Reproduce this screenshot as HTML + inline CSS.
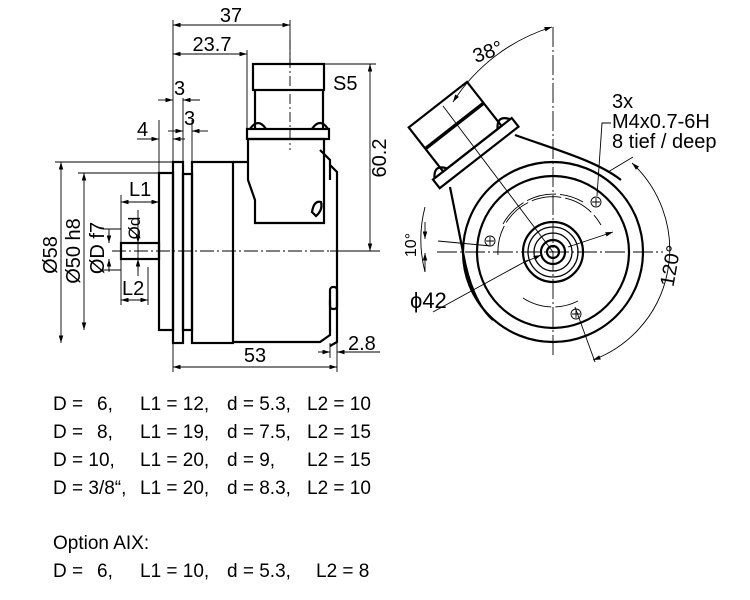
<!DOCTYPE html>
<html><head><meta charset="utf-8"><style>
html,body{margin:0;padding:0;background:#fff;}
svg{display:block;font-family:"Liberation Sans",sans-serif;}
</style></head><body>
<svg width="750" height="600" viewBox="0 0 750 600" xmlns="http://www.w3.org/2000/svg">
<defs>
<marker id="a" viewBox="0 0 10 6" refX="10" refY="3" markerWidth="9" markerHeight="5" orient="auto-start-reverse"><path d="M0,0 L10,3 L0,6z" fill="#000"/></marker>
</defs>
<g fill="none" stroke="#000" stroke-width="2.2">
 <rect x="159" y="173" width="14" height="157"/>
 <rect x="173" y="162" width="10" height="181"/>
 <rect x="183" y="174" width="9" height="156"/>
 <rect x="192" y="162" width="41" height="181"/>
 <path d="M233,162 H248 M233,342 H320 L330,335 V300 M330,180 V160 L320,150"/>
 <path d="M330,165 L337,172 V342 L330,346"/>
 <rect x="330" y="287" width="7" height="22" rx="3"/>
 <path d="M248,139 V180 L255,200 V223 H324 V139 Z"/>
 <rect x="247" y="129" width="82" height="10"/>
 <path d="M255,128 V90 M323,128 V90"/>
 <rect x="253" y="64" width="71" height="26"/>
 <path d="M250,129 q8,-12 16,0 M312,129 q8,-12 16,0"/>
 <path d="M312,212 q2,-12 9,-10 q2,8 -5,14 z"/>
 <rect x="121" y="243" width="38" height="16"/>
</g>
<g stroke="#000" stroke-width="0.9" fill="none">
 <path d="M290,40 V150" stroke-dasharray="10,3,2,3"/>
 <path d="M112,251 H380" stroke-dasharray="14,3,2,3"/>
 <path d="M173,20 V162 M290,20 V64 M247,50 V129 M159,120 V173 M173,98 V162 M183,98 V174 M192,120 V174"/>
 <path d="M55,162 H173 M78,173 H159 M103,229 H121 M103,270 H121 M324,64 H376 M330,251 H376"/>
 <path d="M173,343 V372 M337,343 V372 M330,343 V358"/>
 <path d="M121,195 V243 M121,259 V305 M148,267 V305 M138,210 V276"/>
 <path d="M173,25 H290" marker-start="url(#a)" marker-end="url(#a)"/>
 <path d="M173,54 H247" marker-start="url(#a)" marker-end="url(#a)"/>
 <path d="M61,162 V343" marker-start="url(#a)" marker-end="url(#a)"/>
 <path d="M84,173 V330" marker-start="url(#a)" marker-end="url(#a)"/>
 <path d="M109,229 V243 M109,259 V272" />
 <path d="M109,232 V243" marker-end="url(#a)"/><path d="M109,270 V259" marker-end="url(#a)"/>
 <path d="M370,64 V251" marker-start="url(#a)" marker-end="url(#a)"/>
 <path d="M173,367 H337" marker-start="url(#a)" marker-end="url(#a)"/>
 <path d="M318,352 H330" marker-end="url(#a)"/><path d="M350,352 H337" marker-end="url(#a)"/><path d="M337,352 H380"/>
 <path d="M121,202 H159" marker-start="url(#a)" marker-end="url(#a)"/>
 <path d="M121,300 H148" marker-start="url(#a)" marker-end="url(#a)"/>
 <path d="M138,230 V243" marker-end="url(#a)"/><path d="M138,270 V259" marker-end="url(#a)"/>
 <path d="M158,100 H173" marker-end="url(#a)"/><path d="M200,100 H183" marker-end="url(#a)"/>
 <path d="M168,131 H183" marker-end="url(#a)"/><path d="M208,131 H192" marker-end="url(#a)"/>
 <path d="M137,139 H159" marker-end="url(#a)"/><path d="M185,139 H173" marker-end="url(#a)"/>
</g>
<g font-size="20" fill="#000">
 <text x="231" y="22" text-anchor="middle">37</text>
 <text x="212" y="51" text-anchor="middle">23.7</text>
 <text x="174" y="95">3</text>
 <text x="184" y="125">3</text>
 <text x="137" y="136">4</text>
 <text x="333" y="90">S5</text>
 <text x="129" y="196">L1</text>
 <text x="122" y="295">L2</text>
 <text x="255" y="362" text-anchor="middle">53</text>
 <text x="348" y="350">2.8</text>
 <text transform="translate(386,158) rotate(-90)" text-anchor="middle">60.2</text>
 <text transform="translate(57,255) rotate(-90)" text-anchor="middle">Ø58</text>
 <text transform="translate(80,251) rotate(-90)" text-anchor="middle">Ø50 h8</text>
 <text transform="translate(104,248) rotate(-90)" text-anchor="middle">ØD f7</text>
 <text transform="translate(140,228) rotate(-90)" text-anchor="middle" font-size="17">Ød</text>
</g>
<g transform="translate(553,252)" fill="none" stroke="#000">
 <g stroke-width="2.2">
  <circle r="90"/>
  <circle r="76"/>
  <circle r="30"/><circle r="25" stroke-width="1.3"/><circle r="19" stroke-width="1.3"/><circle r="12"/><circle r="6"/>
  <path d="M-103,-65 C-98,-40 -94,-20 -90,0 C-85,30 -75,55 -60,68"/>
  <path d="M-38,-117 C10,-100 45,-90 68,-72"/>
 </g>
 <g transform="rotate(-38)" stroke-width="2.2">
  <rect x="-37" y="-187" width="74" height="56"/>
  <path d="M-37,-160 H37" stroke-width="3.5"/>
  <rect x="-50" y="-131" width="100" height="11"/>
  <path d="M-48,-131 q8,-12 16,0 M32,-131 q8,-12 16,0"/>
 </g>
 <g stroke-width="0.9">
  <path d="M-116,0 H110 M0,-225 V105" stroke-dasharray="20,3,2,3"/>
  <path d="M-110,-146 L0,0"/>
  <path d="M-100,-150 A180,180 0 0 1 -1,-225" marker-start="url(#a)" marker-end="url(#a)"/>
  <path d="M-55,3 A55,55 0 0 1 48,-27 M-30,46 A55,55 0 0 0 25,49 M-50,-28 A58,58 0 0 1 30,-50" stroke-dasharray="30,4"/>
  <path d="M-115,-11 L-62,-6"/>
  <path d="M-128,-45 A130,130 0 0 0 -128,20" />
  <path d="M-128,-30 V-13" marker-end="url(#a)"/><path d="M-128,20 V1" marker-end="url(#a)"/>
  <path d="M-120,60 L-25,8" /><path d="M-30,11 L-12,3" marker-end="url(#a)"/>
  <path d="M15,-5 L60,-20" marker-end="url(#a)"/>
  <path d="M44,-56 L49,-129 H58"/>
  <path d="M55,-80 L80,-95 M22,55 L42,110"/>
  <path d="M79,-89 A118,118 0 0 1 40,108" marker-start="url(#a)" marker-end="url(#a)"/>
  <circle cx="43" cy="-50" r="5"/><path d="M39,-50 h8 M43,-54 v8"/>
  <circle cx="-63" cy="-11" r="5"/><path d="M-67,-11 h8 M-63,-15 v8"/>
  <circle cx="23" cy="62" r="5"/><path d="M19,62 h8 M23,58 v8"/>
 </g>
</g>
<g font-size="20" fill="#000">
 <text transform="translate(490,58) rotate(-20)" text-anchor="middle">38°</text>
 <text x="612" y="108">3x</text>
 <text x="612" y="128">M4x0.7-6H</text>
 <text x="612" y="148">8 tief / deep</text>
 <text transform="translate(416,245) rotate(-90)" font-size="16" text-anchor="middle">10°</text>
 <text transform="translate(677,267) rotate(-80)" text-anchor="middle">120°</text>
 <text x="410" y="308" font-size="22">ϕ42</text>
</g>
<g font-size="19" fill="#000">
 <text x="53" y="410">D =</text><text x="97" y="410">6,</text><text x="140" y="410">L1 = 12,</text><text x="227" y="410">d = 5.3,</text><text x="307" y="410">L2 = 10</text>
 <text x="53" y="438">D =</text><text x="97" y="438">8,</text><text x="140" y="438">L1 = 19,</text><text x="227" y="438">d = 7.5,</text><text x="307" y="438">L2 = 15</text>
 <text x="53" y="466">D = 10,</text><text x="140" y="466">L1 = 20,</text><text x="227" y="466">d = 9,</text><text x="307" y="466">L2 = 15</text>
 <text x="53" y="494">D = 3/8“,</text><text x="140" y="494">L1 = 20,</text><text x="227" y="494">d = 8.3,</text><text x="307" y="494">L2 = 10</text>
 <text x="53" y="549">Option AIX:</text>
 <text x="53" y="577">D =</text><text x="97" y="577">6,</text><text x="140" y="577">L1 = 10,</text><text x="227" y="577">d = 5.3,</text><text x="316" y="577">L2 = 8</text>
</g>
</svg>
</body></html>
